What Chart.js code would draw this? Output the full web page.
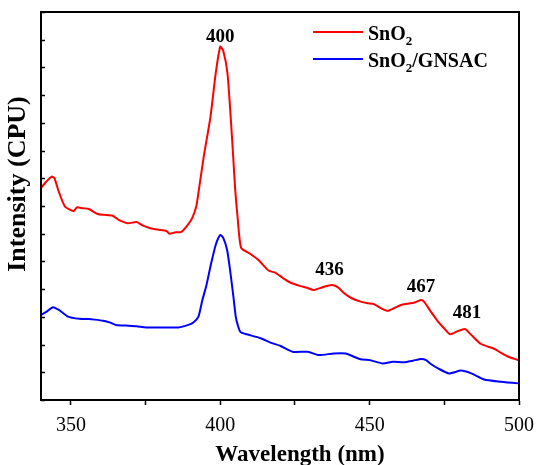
<!DOCTYPE html>
<html>
<head>
<meta charset="utf-8">
<script src="https://cdn.jsdelivr.net/npm/chart.js@4.4.1/dist/chart.umd.min.js"></script>
<style>
  html, body { margin: 0; padding: 0; background: #fff; }
  #wrap { width: 537px; height: 465px; }
</style>
</head>
<body>
<div id="wrap"><canvas id="myChart" width="537" height="465"></canvas></div>
<script>
// SnO2 spectrum
const redNm = [340, 341.5, 343.6, 344.5, 346, 348, 350, 351, 352, 354, 356, 359, 361, 364, 366, 369, 372, 374, 376.6, 379, 382, 383, 385, 387, 389, 390.6, 392, 393, 394.5, 396.7, 398.5, 400, 401, 402.4, 403.5, 404.4, 405, 405.8, 407, 410.1, 412.8, 416.2, 418.5, 421, 423.6, 426.9, 429, 431.3, 434.3, 437.3, 439.3, 441.5, 443.7, 447, 449.4, 451.4, 454, 456.1, 458.1, 460.5, 462.5, 464.8, 467.2, 468.2, 470.5, 472.9, 474.9, 476.9, 479.6, 481.9, 484, 487.3, 491.7, 494, 496.4, 499.7, 500];
const redValues = [7.65, 7.85, 8.06, 8.0, 7.5, 6.98, 6.85, 6.82, 6.95, 6.92, 6.89, 6.71, 6.68, 6.65, 6.5, 6.38, 6.42, 6.3, 6.2, 6.15, 6.1, 6.0, 6.05, 6.07, 6.3, 6.56, 7.0, 7.7, 8.8, 10.2, 11.8, 12.75, 12.6, 11.8, 10.2, 8.66, 7.6, 6.6, 5.49, 5.27, 5.05, 4.67, 4.59, 4.4, 4.23, 4.11, 4.05, 3.97, 4.07, 4.15, 4.07, 3.85, 3.69, 3.55, 3.49, 3.46, 3.3, 3.22, 3.31, 3.43, 3.47, 3.51, 3.61, 3.55, 3.19, 2.83, 2.59, 2.37, 2.49, 2.56, 2.35, 2.02, 1.85, 1.7, 1.56, 1.44, 1.42];

// SnO2/GNSAC spectrum
const blueNm = [340, 342, 344, 346, 349, 352.8, 356, 358, 360.8, 363, 365, 369.5, 372, 375.2, 378, 381, 386, 389.3, 391, 392.7, 394, 395.4, 396.7, 398.5, 400, 401, 402.3, 403.4, 404.4, 405.2, 406, 406.8, 408.5, 413.5, 416.8, 420.2, 424.2, 429.3, 433, 438, 442, 445, 447, 450.4, 454.4, 457.8, 461.5, 464.5, 467.2, 468.9, 470.5, 472.9, 476.6, 480.6, 484, 488.3, 494, 499.7, 500];
const blueValues = [3.07, 3.2, 3.35, 3.25, 3.01, 2.93, 2.92, 2.9, 2.86, 2.8, 2.71, 2.68, 2.66, 2.62, 2.62, 2.62, 2.62, 2.71, 2.8, 3.01, 3.6, 4.15, 4.81, 5.6, 5.95, 5.85, 5.41, 4.6, 3.73, 3.0, 2.65, 2.45, 2.38, 2.23, 2.07, 1.95, 1.74, 1.74, 1.62, 1.68, 1.68, 1.55, 1.47, 1.43, 1.32, 1.38, 1.36, 1.42, 1.48, 1.44, 1.3, 1.14, 0.96, 1.06, 0.96, 0.74, 0.66, 0.6, 0.6];

const seriesNames = ['SnO2', 'SnO2/GNSAC'];
const xTicks = [350, 375, 400, 425, 450, 475, 500];
const xTickLabels = [350, 400, 450, 500];

// peak labels: text, wavelength, intensity where the text sits
const peakText = ['400', '436', '467', '481'];
const peakNm = [400, 436.6, 467.2, 482.6];
const peakAt = [13.1, 4.69, 4.08, 3.14];

const serif = "'Liberation Serif', 'Times New Roman', serif";

function toPoints(xs, ys) {
  return xs.map((x, i) => ({ x: x, y: ys[i] }));
}

// draws frame, inward y ticks, axis titles, legend with subscripts and peak labels
const extras = {
  id: 'extras',
  afterDraw(chart) {
    const ctx = chart.ctx;
    const a = chart.chartArea;
    const xs = chart.scales.x;
    const ys = chart.scales.y;
    ctx.save();

    ctx.strokeStyle = '#000';
    ctx.lineWidth = 1.5;
    ys.ticks.forEach((t, i) => {
      const py = Math.round(ys.getPixelForTick(i)) + 0.5;
      ctx.beginPath();
      ctx.moveTo(a.left, py);
      ctx.lineTo(a.left + 4, py);
      ctx.stroke();
    });

    ctx.lineWidth = 2;
    ctx.strokeRect(a.left, a.top, a.right - a.left, a.bottom - a.top);

    ctx.fillStyle = '#000';
    ctx.textAlign = 'center';
    ctx.textBaseline = 'middle';
    ctx.font = 'bold 23px ' + serif;
    ctx.fillText('Wavelength (nm)', 300, 455);

    ctx.font = 'bold 26px ' + serif;
    ctx.translate(18, 184);
    ctx.rotate(-Math.PI / 2);
    ctx.fillText('Intensity (CPU)', 0, 0);
    ctx.setTransform(1, 0, 0, 1, 0, 0);

    // legend
    chart.data.datasets.forEach((ds, i) => {
      const ly = 32 + i * 27;
      ctx.strokeStyle = ds.borderColor;
      ctx.lineWidth = 2;
      ctx.beginPath();
      ctx.moveTo(313, ly);
      ctx.lineTo(363, ly);
      ctx.stroke();
      ctx.fillStyle = '#000';
      ctx.textAlign = 'left';
      ctx.textBaseline = 'alphabetic';
      let px = 368;
      const base = ly + 8;
      ds.label.split(/(2)/).forEach(part => {
        if (part === '') return;
        if (part === '2') {
          ctx.font = 'bold 13px ' + serif;
          ctx.fillText(part, px, base + 5);
        } else {
          ctx.font = 'bold 20px ' + serif;
          ctx.fillText(part, px, base);
        }
        px += ctx.measureText(part).width;
      });
    });

    ctx.fillStyle = '#000';
    ctx.font = 'bold 19px ' + serif;
    ctx.textAlign = 'center';
    ctx.textBaseline = 'middle';
    peakText.forEach((t, i) => {
      ctx.fillText(t, xs.getPixelForValue(peakNm[i]), ys.getPixelForValue(peakAt[i]));
    });

    ctx.restore();
  }
};

const data = {
  datasets: [{
    label: seriesNames[0],
    data: toPoints(redNm, redValues),
    borderColor: '#ff0000',
    borderWidth: 2,
    pointRadius: 0,
    tension: 0.2
  }, {
    label: seriesNames[1],
    data: toPoints(blueNm, blueValues),
    borderColor: '#0000ff',
    borderWidth: 2,
    pointRadius: 0,
    tension: 0.2
  }]
};

const config = {
  type: 'line',
  data: data,
  options: {
    responsive: false,
    animation: false,
    layout: { padding: { top: 12, right: 18, left: 0, bottom: 0 } },
    plugins: {
      legend: { display: false },
      tooltip: { enabled: false }
    },
    scales: {
      x: {
        type: 'linear',
        min: 340,
        max: 500,
        afterBuildTicks(scale) {
          scale.ticks = xTicks.map(v => ({ value: v }));
        },
        ticks: {
          autoSkip: false,
          maxRotation: 0,
          padding: 9,
          color: '#000',
          font: { family: serif, size: 20 },
          callback: v => xTickLabels.includes(v) ? String(v) : ''
        },
        grid: {
          drawOnChartArea: false,
          tickLength: 5,
          tickWidth: 1.5,
          tickColor: '#000'
        },
        border: { color: '#000', width: 2 },
        afterFit(scale) {
          scale.height = 65;
          scale.paddingLeft = 0;
          scale.paddingRight = 0;
        }
      },
      y: {
        min: 0,
        max: 14,
        ticks: { stepSize: 1, display: false },
        grid: { drawOnChartArea: false, drawTicks: false },
        border: { color: '#000', width: 2 },
        afterFit(scale) { scale.width = 41; }
      }
    }
  },
  plugins: [extras]
};

const myChart = new Chart(document.getElementById('myChart'), config);
</script>
</body>
</html>
